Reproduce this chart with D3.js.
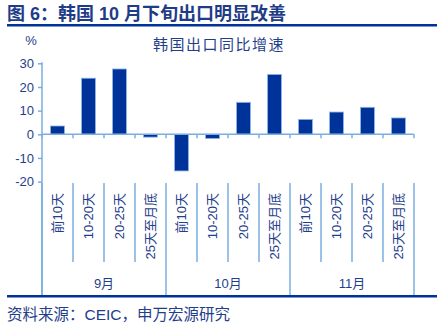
<!DOCTYPE html>
<html><head><meta charset="utf-8">
<script src="https://cdn.jsdelivr.net/npm/d3@7"></script>
<style>
html,body{margin:0;padding:0;background:#fff;}
svg{display:block;font-family:"Liberation Sans","Noto Sans CJK SC",sans-serif;}
</style></head>
<body>
<svg id="c" width="440" height="325"></svg>
<script>
const categories = ["前10天","10-20天","20-25天","25天至月底","前10天","10-20天","20-25天","25天至月底","前10天","10-20天","20-25天","25天至月底"];
const months = ["9月","10月","11月"];
const values = [3.5, 23.7, 27.6, -1.2, -15.5, -1.8, 13.5, 25.3, 6.3, 9.4, 11.4, 6.9];
const yTicks = [-20, -10, 0, 10, 20, 30];

const svg = d3.select("#c");
const dark = "#003399", axisC = "#7aaee0", textC = "#1f3e8c";

// header
svg.append("text").attr("x",7).attr("y",20).attr("font-size",18).attr("font-weight","bold")
  .attr("fill","#1f3c88").text("图 6：韩国 10 月下旬出口明显改善");
svg.append("rect").attr("x",7).attr("y",24).attr("width",430).attr("height",2.5).attr("fill",dark);
svg.append("rect").attr("x",7).attr("y",295).attr("width",430).attr("height",2.5).attr("fill",dark);
svg.append("text").attr("x",7).attr("y",320).attr("font-size",15.5).attr("fill",textC)
  .text("资料来源：CEIC，申万宏源研究");

const x0 = 42, x1 = 414;
const x = d3.scaleBand().domain(d3.range(categories.length)).range([x0,x1]).paddingInner(0.55).paddingOuter(0.275);
const y = d3.scaleLinear().domain([-20,30]).range([181.6,63.3]);
const step = x.step();

svg.append("text").attr("x",219).attr("y",50).attr("text-anchor","middle").attr("font-size",15)
  .attr("letter-spacing",1.5).attr("fill",textC).text("韩国出口同比增速");
svg.append("text").attr("x",31).attr("y",45).attr("text-anchor","middle").attr("font-size",13)
  .attr("fill",textC).text("%");

// y axis
const yAxis = d3.axisLeft(y).tickValues(yTicks).tickSize(4).tickPadding(4).tickFormat(d=>String(d));
const gy = svg.append("g").attr("transform",`translate(${x0},0)`).call(yAxis);
gy.select(".domain").remove();
gy.selectAll(".tick line").attr("stroke",axisC).attr("stroke-width",1.5);
gy.selectAll(".tick text").attr("fill",textC).attr("font-size",13).attr("font-family","Liberation Sans, sans-serif");
svg.append("line").attr("x1",x0).attr("x2",x0).attr("y1",y(30)-1).attr("y2",295).attr("stroke",axisC).attr("stroke-width",1.5);

// bars
svg.append("g").selectAll("rect").data(values).join("rect")
  .attr("x",(d,i)=>x(i)).attr("width",x.bandwidth())
  .attr("y",d=>y(Math.max(0,d))).attr("height",d=>Math.abs(y(d)-y(0)))
  .attr("fill",dark).attr("stroke","#8fb4e6").attr("stroke-width",0.8);

// zero line with ticks
svg.append("line").attr("x1",x0).attr("x2",x1).attr("y1",y(0)).attr("y2",y(0)).attr("stroke",axisC).attr("stroke-width",1.5);
const bounds = d3.range(categories.length+1).map(k=>x0+k*step);
svg.append("g").selectAll("line").data(bounds).join("line")
  .attr("x1",d=>d).attr("x2",d=>d).attr("y1",y(0)).attr("y2",y(0)+4).attr("stroke",axisC).attr("stroke-width",1.5);

// label separators
svg.append("g").selectAll("line").data(bounds).join("line")
  .attr("x1",d=>d).attr("x2",d=>d).attr("y1",183)
  .attr("y2",(d,k)=>k%4===0?295:262).attr("stroke",axisC).attr("stroke-width",1.5);

// category labels
svg.append("g").selectAll("text").data(categories).join("text")
  .attr("transform",(d,i)=>`translate(${x(i)+x.bandwidth()/2+4.5},193) rotate(-90)`)
  .attr("text-anchor","end").attr("font-size",13).attr("fill",textC).text(d=>d);

// month labels
svg.append("g").selectAll("text").data(months).join("text")
  .attr("x",(d,i)=>x0+(i*4+2)*step).attr("y",288).attr("text-anchor","middle")
  .attr("font-size",13).attr("fill",textC).text(d=>d);
</script>
</body></html>
